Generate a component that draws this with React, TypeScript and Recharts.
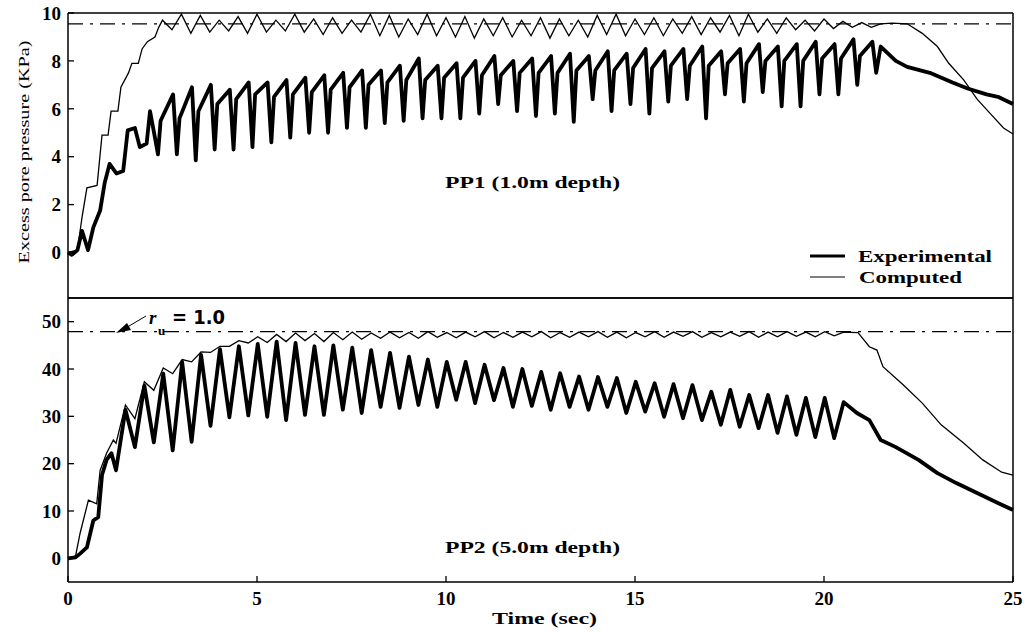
import { LineChart, Line, XAxis, YAxis, ReferenceLine } from 'recharts';

// shaking is 2 Hz, so one loading cycle every 0.5 s
const PERIOD = 0.5;

const timeTicks = [0, 5, 10, 15, 20, 25];
const pp1Ticks = [0, 2, 4, 6, 8, 10];
const pp2Ticks = [0, 10, 20, 30, 40, 50];

// ru = 1.0 levels (dash-dot lines)
const pp1Limit = 9.55;
const pp2Limit = 47.9;

// ---- PP1 (1.0 m depth), experimental ----
const pp1ExpRiseT = [0, 0.1, 0.25, 0.37, 0.45, 0.53, 0.67, 0.85, 0.97, 1.1, 1.28, 1.46, 1.58, 1.77, 1.9, 2.08, 2.17, 2.3];
const pp1ExpRiseV = [0, -0.1, 0.1, 0.9, 0.5, 0.1, 1.05, 1.75, 2.9, 3.7, 3.3, 3.4, 5.1, 5.2, 4.4, 4.55, 5.9, 4.8];
const pp1ExpStart = 2.38; // first dip
const pp1ExpDip = [4.1, 4.1, 3.85, 4.3, 4.3, 4.4, 4.6, 4.8, 5.0, 5.0, 5.2, 5.2, 5.4, 5.5, 5.6, 5.6, 5.6, 5.8, 6.2, 5.9, 5.7, 5.8, 5.45, 6.4, 5.9, 6.2, 5.8, 6.3, 6.4, 5.6, 6.6, 6.3, 6.7, 6.1, 6.1, 6.6, 6.6, 7.0];
const pp1ExpAfter = [5.5, 5.6, 5.9, 6.2, 6.4, 6.6, 6.5, 6.6, 6.7, 6.8, 6.9, 7.0, 7.1, 7.2, 7.2, 7.3, 7.3, 7.4, 7.4, 7.5, 7.5, 7.5, 7.6, 7.6, 7.6, 7.7, 7.7, 7.8, 7.8, 7.8, 7.9, 7.9, 8.0, 8.0, 8.0, 8.1, 8.1, 8.2];
const pp1ExpBefore = [6.6, 6.9, 7.0, 6.8, 7.1, 7.1, 7.2, 7.3, 7.4, 7.5, 7.6, 7.6, 7.8, 8.1, 7.8, 7.9, 8.0, 8.2, 8.0, 8.1, 8.2, 8.3, 8.2, 8.4, 8.3, 8.5, 8.4, 8.5, 8.6, 8.4, 8.5, 8.7, 8.6, 8.7, 8.8, 8.7, 8.9, 8.8];
const pp1ExpTailT = [21.38, 21.5, 21.9, 22.2, 22.8, 23.4, 23.8, 24.3, 24.6, 25];
const pp1ExpTailV = [7.5, 8.6, 8.0, 7.75, 7.5, 7.1, 6.85, 6.6, 6.5, 6.2];

// ---- PP1, computed ----
const pp1CompRiseT = [0, 0.25, 0.37, 0.5, 0.77, 0.85, 0.9, 1.06, 1.14, 1.32, 1.4, 1.6, 1.69, 1.86, 1.96, 2.1, 2.3, 2.4, 2.5];
const pp1CompRiseV = [0, 0.1, 1.46, 2.7, 2.8, 4.1, 4.9, 4.9, 5.9, 5.9, 6.9, 7.5, 7.9, 7.9, 8.5, 8.8, 9.0, 9.4, 9.7];
const pp1CompStart = 2.75;
const pp1CompLow = [9.3, 9.15, 9.2, 9.25, 9.15, 9.2, 9.25, 9.2, 9.1, 9.15, 9.2, 9.05, 9.0, 9.1, 9.05, 9.0, 8.95, 9.05, 9.0, 9.05, 8.95, 9.05, 9.0, 9.1, 9.05, 9.1, 9.05, 9.15, 9.1, 9.2, 9.05, 9.2, 9.15, 9.3, 9.25, 9.35, 9.4];
const pp1CompHigh = [9.95, 9.9, 9.7, 9.85, 9.95, 9.7, 9.95, 9.75, 9.8, 9.7, 9.95, 9.9, 9.75, 9.95, 9.8, 9.85, 9.75, 9.8, 9.7, 9.8, 9.75, 9.7, 9.9, 9.95, 9.75, 9.8, 9.75, 9.85, 9.8, 9.9, 9.95, 9.75, 9.8, 9.7, 9.75, 9.65, 9.6];
const pp1CompTailT = [21.25, 21.5, 21.8, 22.2, 22.6, 23.0, 23.3, 23.7, 24.05, 24.4, 24.75, 25];
const pp1CompTailV = [9.4, 9.55, 9.58, 9.55, 9.15, 8.6, 7.9, 7.2, 6.4, 5.8, 5.2, 4.95];

// ---- PP2 (5.0 m depth), experimental ----
const pp2ExpRiseT = [0, 0.2, 0.32, 0.5, 0.67, 0.8, 0.9, 1.02, 1.15];
const pp2ExpRiseV = [0, 0.2, 1, 2.3, 8, 8.7, 17.6, 20.8, 22.2];
const pp2Start = 1.27;
const pp2ExpLow = [18.6, 23.5, 24.5, 22.8, 24.6, 28.0, 29.8, 30.2, 29.9, 29.2, 30.3, 30.3, 31.4, 30.7, 32.0, 31.8, 32.4, 32.0, 33.5, 32.8, 33.4, 32.0, 32.2, 31.4, 32.0, 31.4, 32.0, 30.7, 31.0, 29.9, 29.6, 29.2, 28.2, 27.8, 27.5, 26.5, 26.1, 25.6, 25.4];
const pp2ExpHigh = [31.4, 36.5, 39.0, 41.5, 43.0, 44.2, 44.8, 45.3, 45.8, 45.5, 44.8, 45.0, 44.5, 44.0, 43.4, 42.6, 42.0, 41.5, 41.5, 40.9, 40.2, 40.0, 39.4, 39.1, 38.4, 38.3, 38.1, 37.3, 37.0, 36.8, 36.6, 35.2, 35.6, 34.5, 34.5, 34.2, 33.9, 33.9, 33.0];
const pp2ExpTailT = [20.87, 21.2, 21.5, 21.9, 22.5, 23.0, 23.5, 24.05, 24.6, 25];
const pp2ExpTailV = [30.7, 29.2, 25.0, 23.5, 20.8, 18.0, 15.9, 13.8, 11.7, 10.2];

// ---- PP2, computed ----
const pp2CompRiseT = [0, 0.2, 0.32, 0.54, 0.76, 0.85, 1.02, 1.2];
const pp2CompRiseV = [0, 0.5, 5.3, 12.3, 11.5, 18.6, 22.2, 25.0];
const pp2CompLow = [24.3, 29.5, 35.5, 39.0, 41.5, 43.5, 44.8, 45.5, 45.6, 45.8, 46.0, 45.8, 46.2, 46.3, 46.5, 46.6, 46.5, 46.7, 46.6, 46.8, 46.6, 46.7, 46.8, 46.6, 46.7, 46.8, 46.7, 46.6, 46.8, 46.7, 46.9, 46.7, 46.8, 46.9, 46.7, 46.8, 46.9, 46.8, 47.0];
const pp2CompHigh = [32.4, 37.3, 40.2, 42.0, 43.6, 44.8, 46.0, 46.8, 47.3, 47.6, 47.5, 47.7, 47.8, 47.6, 47.8, 47.7, 47.9, 47.7, 47.8, 47.9, 47.7, 47.8, 47.9, 47.7, 47.8, 47.9, 47.8, 47.7, 47.9, 47.8, 47.9, 47.7, 47.8, 47.9, 47.8, 47.9, 47.8, 47.9, 47.8];
const pp2CompTailT = [20.9, 21.2, 21.4, 21.56, 22.1, 22.6, 23.1, 23.7, 24.2, 24.7, 25];
const pp2CompTailV = [47.7, 44.7, 44.0, 40.5, 36.6, 32.8, 28.2, 24.3, 20.8, 18.2, 17.6];

type Pt = { t: number; v: number };

const zip = (ts: number[], vs: number[]): Pt[] => ts.map((t, i) => ({ t, v: vs[i] }));

// place each cycle's readings at fixed offsets inside its 0.5 s loading cycle
const cycles = (start: number, offsets: number[], levels: number[][]): Pt[] =>
  levels[0].flatMap((_, i) =>
    offsets.map((o, k) => ({ t: +(start + i * PERIOD + o).toFixed(3), v: levels[k][i] }))
  );

const pp1Exp = [
  ...zip(pp1ExpRiseT, pp1ExpRiseV),
  ...cycles(pp1ExpStart, [0, 0.07, 0.4], [pp1ExpDip, pp1ExpAfter, pp1ExpBefore]),
  ...zip(pp1ExpTailT, pp1ExpTailV),
];
const pp1Comp = [
  ...zip(pp1CompRiseT, pp1CompRiseV),
  ...cycles(pp1CompStart, [0, 0.25], [pp1CompLow, pp1CompHigh]),
  ...zip(pp1CompTailT, pp1CompTailV),
];
const pp2Exp = [
  ...zip(pp2ExpRiseT, pp2ExpRiseV),
  ...cycles(pp2Start, [0, 0.25], [pp2ExpLow, pp2ExpHigh]),
  ...zip(pp2ExpTailT, pp2ExpTailV),
];
const pp2Comp = [
  ...zip(pp2CompRiseT, pp2CompRiseV),
  ...cycles(pp2Start, [0, 0.25], [pp2CompLow, pp2CompHigh]),
  ...zip(pp2CompTailT, pp2CompTailV),
];

const serif = '"Liberation Serif", "Times New Roman", serif';
const tickFont = { fill: '#000', fontSize: 19, fontWeight: 700, fontFamily: serif };
const axisLine = { stroke: '#000', strokeWidth: 1.5 };
const tickLine = { stroke: '#000', strokeWidth: 1.3 };

interface PanelProps {
  top: number;
  height: number;
  bottomHeight: number;
  domain: [number, number];
  ticks: number[];
  limit: number;
  exp: Pt[];
  comp: Pt[];
  timeLabels: boolean;
}

function Panel({ top, height, bottomHeight, domain, ticks, limit, exp, comp, timeLabels }: PanelProps) {
  return (
    <div style={{ position: 'absolute', left: 0, top }}>
      <LineChart width={1029} height={height} margin={{ top: 12, right: 15, bottom: 0, left: 0 }}>
        <XAxis
          xAxisId="top"
          orientation="top"
          type="number"
          dataKey="t"
          domain={[0, 25]}
          ticks={timeTicks}
          height={1}
          tick={false}
          tickSize={-6}
          axisLine={axisLine}
          tickLine={tickLine}
        />
        <XAxis
          xAxisId="b"
          type="number"
          dataKey="t"
          domain={[0, 25]}
          ticks={timeTicks}
          height={bottomHeight}
          tick={timeLabels ? tickFont : false}
          tickSize={-6}
          tickMargin={16}
          axisLine={axisLine}
          tickLine={tickLine}
        />
        <YAxis
          yAxisId="l"
          type="number"
          domain={domain}
          ticks={ticks}
          width={68}
          tick={tickFont}
          tickSize={-6}
          tickMargin={13}
          axisLine={axisLine}
          tickLine={tickLine}
        />
        <YAxis
          yAxisId="r"
          orientation="right"
          type="number"
          domain={domain}
          ticks={ticks}
          width={1}
          tick={false}
          tickSize={-6}
          axisLine={axisLine}
          tickLine={tickLine}
        />
        <ReferenceLine
          xAxisId="b"
          yAxisId="l"
          y={limit}
          stroke="#000"
          strokeWidth={1.3}
          strokeDasharray="15 7 3 7"
        />
        <Line
          xAxisId="b"
          yAxisId="l"
          data={comp}
          dataKey="v"
          type="linear"
          stroke="#000"
          strokeWidth={1.3}
          dot={false}
          isAnimationActive={false}
        />
        <Line
          xAxisId="b"
          yAxisId="l"
          data={exp}
          dataKey="v"
          type="linear"
          stroke="#000"
          strokeWidth={3.8}
          strokeLinejoin="round"
          dot={false}
          isAnimationActive={false}
        />
      </LineChart>
    </div>
  );
}

export default function App() {
  return (
    <div style={{ position: 'absolute', left: 0, top: 0, width: 1029, height: 632, background: '#fff', overflow: 'hidden' }}>
      <Panel
        top={0}
        height={300}
        bottomHeight={2}
        domain={[-1.9, 10]}
        ticks={pp1Ticks}
        limit={pp1Limit}
        exp={pp1Exp}
        comp={pp1Comp}
        timeLabels={false}
      />
      <Panel
        top={285}
        height={347}
        bottomHeight={50}
        domain={[-5, 55]}
        ticks={pp2Ticks}
        limit={pp2Limit}
        exp={pp2Exp}
        comp={pp2Comp}
        timeLabels
      />
      <svg
        width={1029}
        height={632}
        style={{ position: 'absolute', left: 0, top: 0, pointerEvents: 'none' }}
        fontFamily={serif}
        fill="#000"
      >
        <text transform="translate(29,152) rotate(-90)" textAnchor="middle" fontSize={15} fill="#000" textLength={223} lengthAdjust="spacingAndGlyphs">
          Excess pore pressure (KPa)
        </text>
        <text x={445} y={188} fontSize={16} fontWeight={700} textLength={175} lengthAdjust="spacingAndGlyphs">
          PP1 (1.0m depth)
        </text>
        <text x={445} y={553} fontSize={16} fontWeight={700} textLength={175} lengthAdjust="spacingAndGlyphs">
          PP2 (5.0m depth)
        </text>
        <text x={492} y={624} fontSize={16} fontWeight={700} textLength={105} lengthAdjust="spacingAndGlyphs">
          Time (sec)
        </text>

        <line x1={810} y1={256} x2={845} y2={256} stroke="#000" strokeWidth={3} />
        <text x={858} y={262} fontSize={17} fontWeight={700} textLength={134} lengthAdjust="spacingAndGlyphs">
          Experimental
        </text>
        <line x1={810} y1={277} x2={845} y2={277} stroke="#000" strokeWidth={1.2} />
        <text x={859} y={283} fontSize={17} fontWeight={700} textLength={103} lengthAdjust="spacingAndGlyphs">
          Computed
        </text>

        <line x1={146} y1={316} x2={124} y2={329} stroke="#000" strokeWidth={1} />
        <polygon points="116,333 127,323 131,330" fill="#000" />
        <text x={149} y={324} fontSize={19} fontStyle="italic" fontWeight={700}>r</text>
        <text x={158} y={335} fontSize={13} fontWeight={700}>u</text>
        <text x={172} y={324} fontSize={19} fontWeight={700} fontFamily='"DejaVu Sans", sans-serif' textLength={53} lengthAdjust="spacingAndGlyphs">
          = 1.0
        </text>
      </svg>
    </div>
  );
}
